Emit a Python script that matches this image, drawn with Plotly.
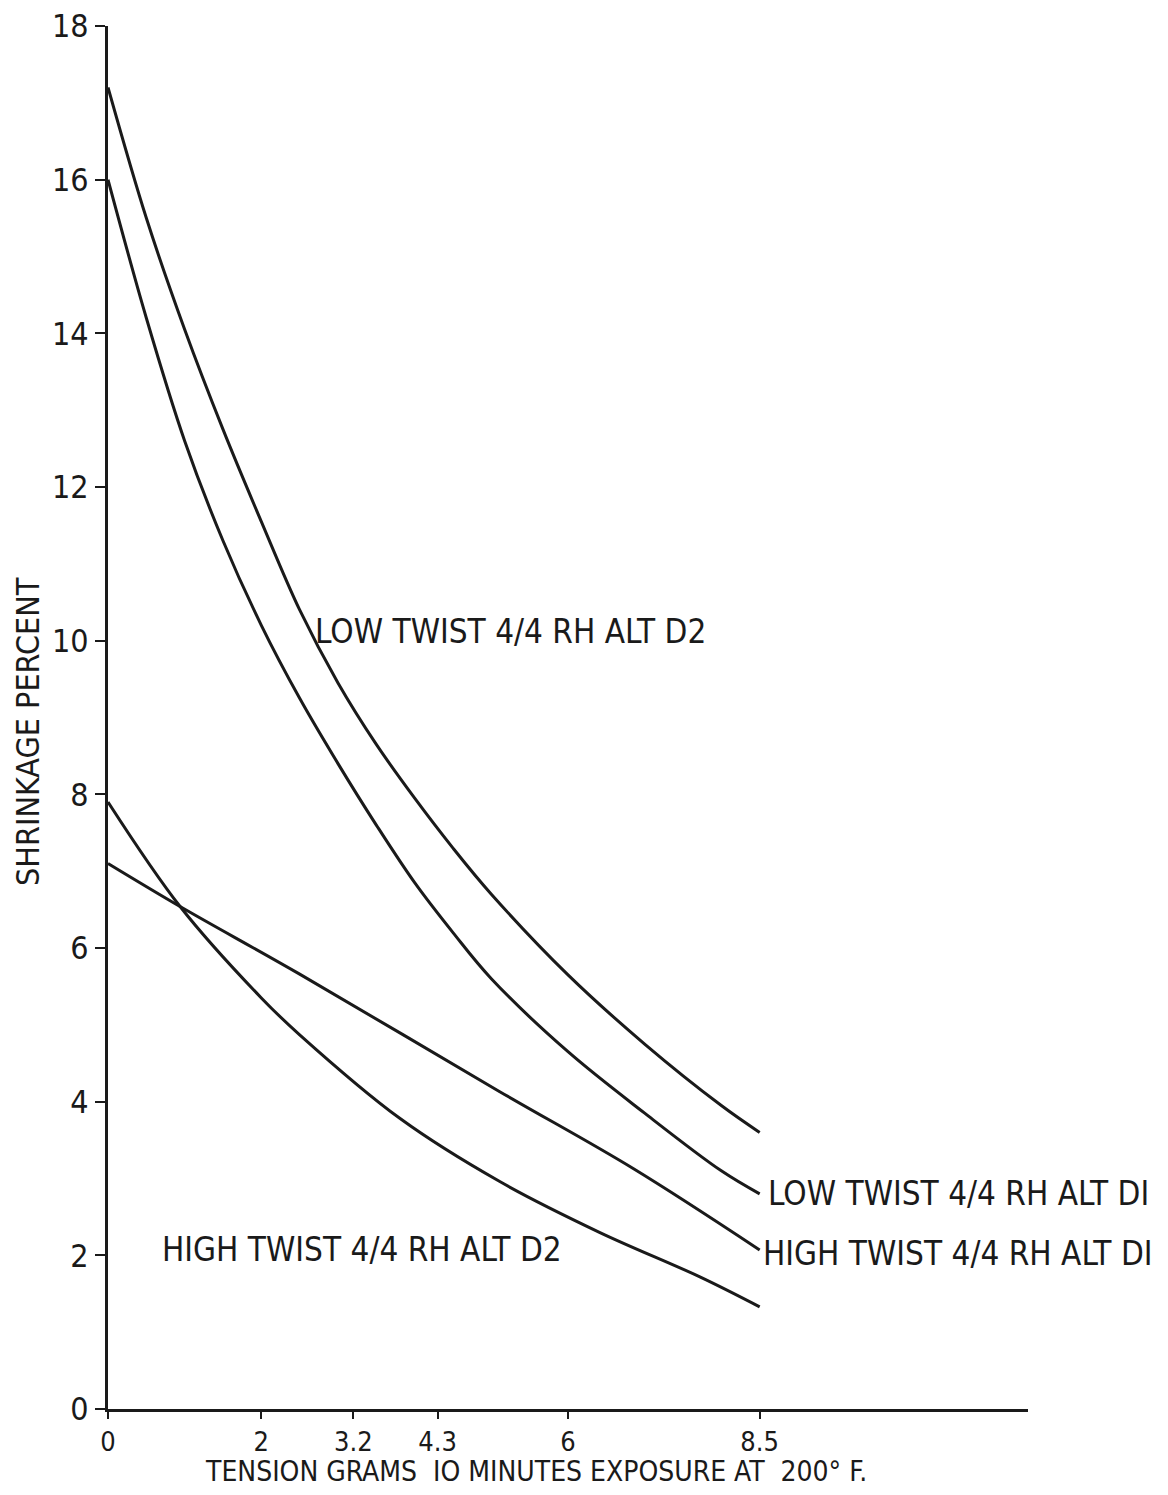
import plotly.graph_objects as go

# Data
tension = [0, 0.5, 1, 1.5, 2, 2.5, 3, 3.5, 4, 4.5, 5, 6, 7, 8, 8.5]
low_d2_y = [17.2, 15.5, 14.05, 12.75, 11.55, 10.4, 9.45, 8.65, 7.95, 7.3, 6.7, 5.65, 4.75, 3.95, 3.6]
low_d1_y = [16.0, 14.2, 12.6, 11.3, 10.2, 9.25, 8.4, 7.6, 6.85, 6.2, 5.6, 4.65, 3.85, 3.1, 2.8]

high_d1_x = [0, 0.94, 2.5, 5.11, 6.85, 8.5]
high_d1_y = [7.1, 6.54, 5.66, 4.13, 3.13, 2.07]

high_d2_x = [0, 0.94, 2.0, 2.5, 3.81, 5.11, 6.41, 7.72, 8.5]
high_d2_y = [7.9, 6.54, 5.35, 4.87, 3.78, 2.96, 2.3, 1.72, 1.33]

x_ticks = [0, 2, 3.2, 4.3, 6, 8.5]
x_tick_text = ["0", "2", "3.2", "4.3", "6", "8.5"]
y_ticks = [0, 2, 4, 6, 8, 10, 12, 14, 16, 18]
y_tick_text = ["0", "2", "4", "6", "8", "10", "12", "14", "16", "18"]

labels = ["LOW TWIST 4/4 RH ALT D2", "LOW TWIST 4/4 RH ALT DI",
          "HIGH TWIST 4/4 RH ALT DI", "HIGH TWIST 4/4 RH ALT D2"]

FONT = "Liberation Sans Narrow, DejaVu Sans Condensed, Arial Narrow, sans-serif"
INK = "#1a1a1a"

fig = go.Figure()
for xs, ys in [(tension, low_d2_y), (tension, low_d1_y),
               (high_d1_x, high_d1_y), (high_d2_x, high_d2_y)]:
    fig.add_trace(go.Scatter(x=xs, y=ys, mode="lines",
                             line=dict(color=INK, width=3, shape="spline", smoothing=1.0),
                             cliponaxis=False, showlegend=False, hoverinfo="skip"))

ann_pos = [(2.68, 10.12), (8.58, 2.8), (8.52, 2.02), (0.68, 2.07)]
for (ax, ay), txt in zip(ann_pos, labels):
    fig.add_annotation(x=ax, y=ay, xref="x", yref="y", text=txt, showarrow=False,
                       xanchor="left", yanchor="middle",
                       font=dict(family=FONT, size=33, color=INK))

fig.add_annotation(x=(536 - 108) / 920, y=-(1469 - 1407) / 1383, xref="paper", yref="paper",
                   text="TENSION GRAMS  IO MINUTES EXPOSURE AT  200° F.",
                   showarrow=False, xanchor="center", yanchor="middle",
                   font=dict(family=FONT, size=28, color=INK))
fig.add_annotation(x=-(108 - 28) / 920, y=(1407 - 730) / 1383, xref="paper", yref="paper",
                   text="SHRINKAGE PERCENT", textangle=-90,
                   showarrow=False, xanchor="center", yanchor="middle",
                   font=dict(family=FONT, size=32, color=INK))

fig.update_xaxes(range=[0, 12], tickmode="array", tickvals=x_ticks, ticktext=x_tick_text,
                 showgrid=False, zeroline=False, showline=True, linecolor=INK, linewidth=3,
                 ticks="outside", ticklen=7, tickwidth=2, tickcolor=INK, automargin=False,
                 ticklabeloverflow="allow",
                 tickfont=dict(family=FONT, size=27, color=INK))
fig.update_yaxes(range=[0, 18], tickmode="array", tickvals=y_ticks, ticktext=y_tick_text,
                 showgrid=False, zeroline=False, showline=True, linecolor=INK, linewidth=3,
                 ticks="outside", ticklen=10, tickwidth=2, tickcolor=INK, automargin=False,
                 ticklabeloverflow="allow",
                 tickfont=dict(family=FONT, size=32, color=INK))

# page has an 8px body margin; figure sized so the page does not scroll
fig.update_layout(width=1152, height=1479, margin=dict(l=100, r=132, t=18, b=78),
                  paper_bgcolor="white", plot_bgcolor="white")

fig.write_html("out.html")
